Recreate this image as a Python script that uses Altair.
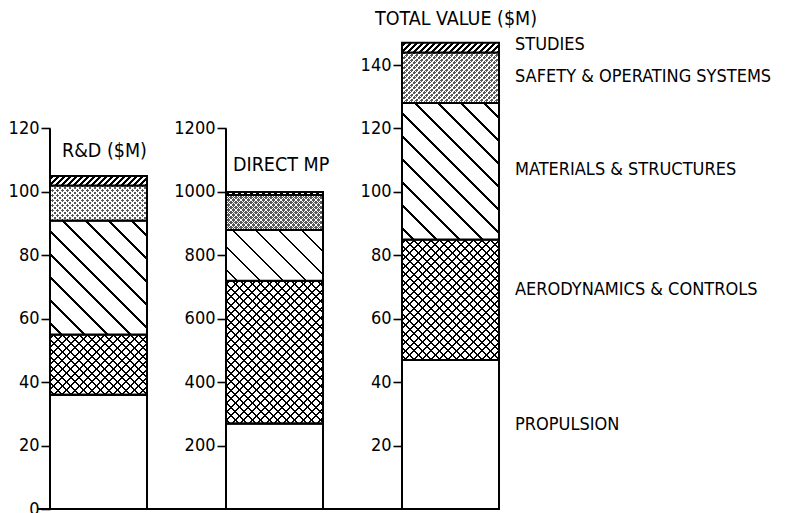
import altair as alt
import pandas as pd

# ---------------- data ----------------
categories = ["PROPULSION", "AERODYNAMICS & CONTROLS", "MATERIALS & STRUCTURES",
              "SAFETY & OPERATING SYSTEMS", "STUDIES"]
rd_values = [36, 19, 36, 11, 3]        # R&D ($M)
mp_values = [270, 450, 160, 110, 10]   # Direct MP
tv_values = [47, 38, 43, 16, 3]        # Total value ($M)

panel_titles = ["R&D ($M)", "DIRECT MP", "TOTAL VALUE ($M)"]
rd_ticks = [0, 20, 40, 60, 80, 100, 120]
mp_ticks = [200, 400, 600, 800, 1000, 1200]
tv_ticks = [20, 40, 60, 80, 100, 120, 140]

# ---------------- layout / style ----------------
FONT = "'DejaVu Sans Condensed', 'Liberation Sans Narrow', 'DejaVu Sans', sans-serif"
FS = 18
TFS = 19.5
PAD_TOP = 0
H = 498
BAR_W = 97
panel_widths = [176, 176, 390]
y_max = [157.05, 1570.5, 157.05]
axis_tops = [120, 1200, 147]
title_pos = [113, 1085, 154.6]   # y of panel titles, in panel units
title_dx = [12, 7, -27]          # x offset of panel titles, px
label_pos = [26.5, 69, 107, 136.3, 146.4]   # y of right-hand labels (panel 3 units)
LABEL_DX = 113

SW = 2.0
CLEAR = "rgba(0,0,0,0)"


def stripe_grad(w, h, period, thick, kind, ink="black", bg="white"):
    total = w + h
    c = total / (w * w + h * h)
    if kind == "back":   # "\" lines
        x1, y1, x2, y2 = 0, 1, c * w, 1 - c * h
    else:                # "/" lines
        x1, y1, x2, y2 = 0, 0, c * w, c * h
    stops = [alt.GradientStop(offset=0, color=bg)]
    pos = period / 2.0
    while pos - thick / 2.0 < total:
        a = max(0.0, (pos - thick / 2.0) / total)
        b = min(1.0, (pos + thick / 2.0) / total)
        stops += [alt.GradientStop(offset=a, color=bg), alt.GradientStop(offset=a, color=ink),
                  alt.GradientStop(offset=b, color=ink), alt.GradientStop(offset=b, color=bg)]
        pos += period
    stops.append(alt.GradientStop(offset=1, color=bg))
    return alt.LinearGradient(gradient="linear", stops=stops, x1=x1, y1=y1, x2=x2, y2=y2)


def make_panel(i, values, ticks):
    start, end, acc = [], [], 0
    for v in values:
        start.append(acc)
        acc += v
        end.append(acc)
    df = pd.DataFrame({"category": categories, "value": values, "start": start,
                       "end": end, "panel": panel_titles[i]})
    scale = alt.Scale(domain=[0, y_max[i]], nice=False, zero=True)
    axis = alt.Axis(values=ticks, title=None, domain=False, grid=False, tickSize=9,
                    tickWidth=1.6, tickColor="black", labelFont=FONT, labelFontSize=FS,
                    labelColor="black", labelPadding=2, labelFlush=False,
                    labelOverlap=False, format="d")
    xenc = alt.X("panel:N", axis=None,
                 scale=alt.Scale(range=[0, BAR_W], paddingInner=0, paddingOuter=0))
    px = H / y_max[i]

    def Y(field):
        return alt.Y(field, type="quantitative", scale=scale, axis=axis)

    base = alt.Chart(df)
    layers = []
    # baseline
    layers.append(alt.Chart(pd.DataFrame({"z": [0]})).mark_rule(
        color="black", strokeWidth=2.2).encode(
        y=Y("z"), x=alt.value(-12 if i != 1 else 0),
        x2=alt.value(panel_widths[i] if i != 2 else BAR_W)))

    def seg(cat, fill, sw=SW):
        return base.transform_filter(alt.datum.category == cat).mark_bar(
            fill=fill, stroke="black", strokeWidth=sw).encode(
            x=xenc, y=Y("start"), y2="end")

    hs = [v * px for v in values]
    layers.append(seg(categories[0], "white"))
    # aerodynamics: cross hatch
    layers.append(seg(categories[1], stripe_grad(BAR_W, hs[1], 8.5, 2.0, "back")))
    layers.append(seg(categories[1], stripe_grad(BAR_W, hs[1], 8.5, 2.0, "fwd", bg=CLEAR)))
    # materials: wide back-hatch
    layers.append(seg(categories[2], stripe_grad(BAR_W, hs[2], 23, 2.2, "back")))
    # safety: stipple (dot grid)
    layers.append(seg(categories[3], "#5a5a5a"))
    layers.append(seg(categories[3], stripe_grad(BAR_W, hs[3], 5.0, 3.6, "back",
                                                 ink=CLEAR, bg="white"), sw=0))
    layers.append(seg(categories[3], stripe_grad(BAR_W, hs[3], 5.0, 3.6, "fwd",
                                                 ink=CLEAR, bg="white")))
    # studies: dense forward hatch
    layers.append(seg(categories[4], stripe_grad(BAR_W, hs[4], 6, 2.8, "fwd")))

    # axis line
    layers.append(alt.Chart(pd.DataFrame({"a": [0], "b": [axis_tops[i]]})).mark_rule(
        color="black", strokeWidth=2).encode(x=alt.value(0), y=Y("a"), y2="b"))
    # panel title
    layers.append(alt.Chart(pd.DataFrame({"t": [panel_titles[i]], "p": [title_pos[i]]})).mark_text(
        align="left", baseline="middle", font=FONT, fontSize=TFS, color="black",
        dx=title_dx[i]).encode(x=alt.value(0), y=Y("p"), text="t:N"))
    if i == 2:
        ldf = pd.DataFrame({"t": categories, "p": label_pos})
        layers.append(alt.Chart(ldf).mark_text(
            align="left", baseline="middle", font=FONT, fontSize=FS, color="black").encode(
            x=alt.value(LABEL_DX), y=Y("p"), text="t:N"))
    return alt.layer(*layers).properties(width=panel_widths[i], height=H)


p1 = make_panel(0, rd_values, rd_ticks)
p2 = make_panel(1, mp_values, mp_ticks)
p3 = make_panel(2, tv_values, tv_ticks)

chart = alt.hconcat(p1, p2, p3, spacing=0, bounds="flush").properties(
    padding={"left": 0, "top": PAD_TOP, "right": 0, "bottom": 0}, background="white"
).configure_view(stroke=None)

chart.save("out.html", embed_options={"renderer": "svg", "actions": False})
